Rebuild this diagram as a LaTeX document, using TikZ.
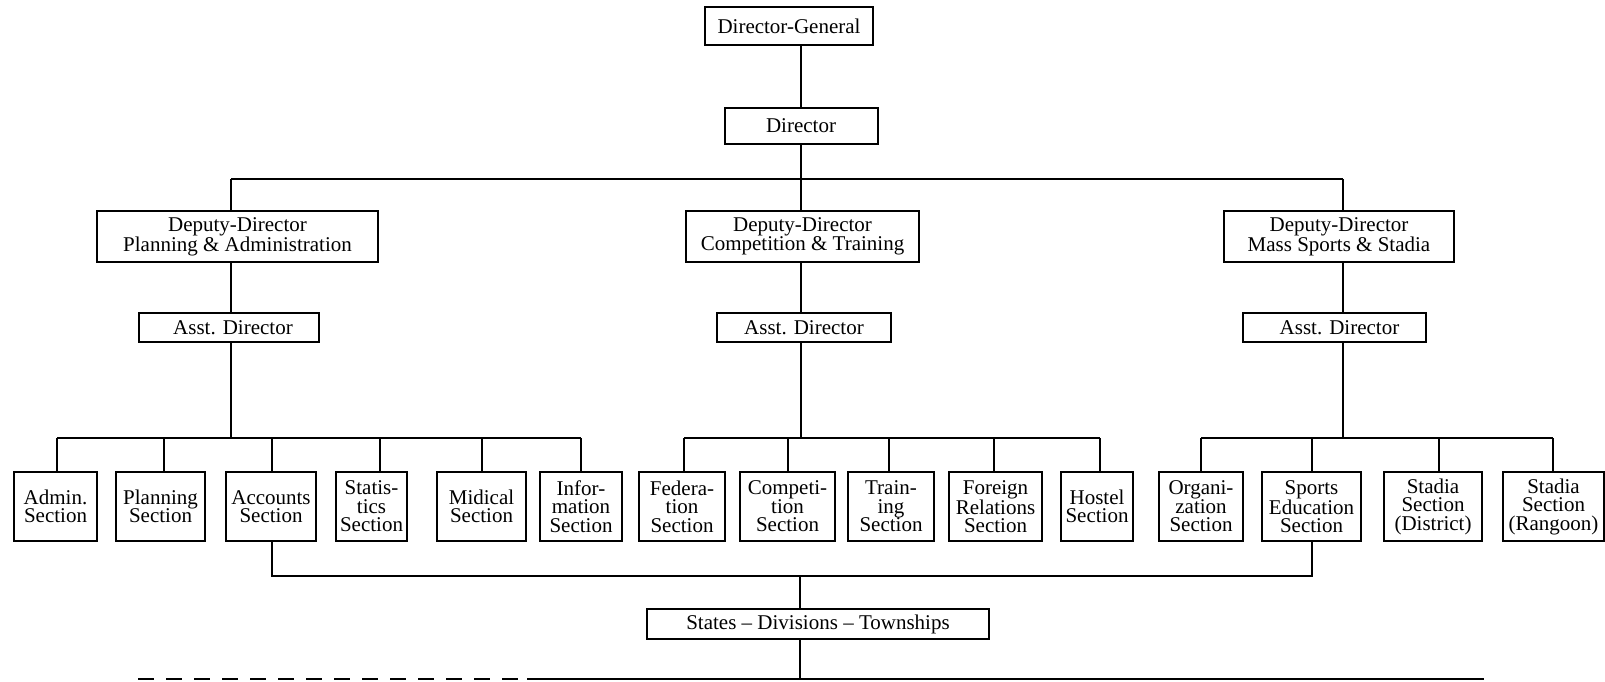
\documentclass[tikz,border=0pt]{standalone}
\usepackage{fontspec}
\setmainfont{Liberation Serif}
\begin{document}
\begin{tikzpicture}[x=1pt,y=-1pt,
  box/.style={draw, line width=2pt, inner sep=0pt, align=center,
    font=\fontsize{21}{18.5}\selectfont},
  sec/.style={box, minimum height=69pt},
  conn/.style={line width=2pt}]
\fill[white] (0,0) rectangle (1605,682);
\useasboundingbox (0,0) rectangle (1605,682);

% top levels
\node[box, minimum width=168pt, minimum height=38pt] (dg) at (789,26) {Director-General};
\node[box, minimum width=153pt, minimum height=36pt] (dir) at (801,126) {Director};

\node[box, minimum width=281pt, minimum height=51pt] (ddpa) at (237.5,236.5) {Deputy-Director\\Planning \& Administration};
\node[box, minimum width=233pt, minimum height=51pt] (ddct) at (802.5,236.5) {Deputy-Director\\Competition \& Training};
\node[box, minimum width=230pt, minimum height=51pt] (ddms) at (1339,236.5) {Deputy-Director\\Mass Sports \& Stadia};

\node[box, minimum width=180pt, minimum height=29pt] (asstL) at (229,327.5) {\hspace*{8pt}Asst. Director};
\node[box, minimum width=174pt, minimum height=29pt] (asstC) at (804,327.5) {Asst. Director};
\node[box, minimum width=183pt, minimum height=29pt] (asstR) at (1334.5,327.5) {\hspace*{10pt}Asst. Director};

% sections
\node[sec, minimum width=83pt] (admin) at (55.5,506.5) {Admin.\\Section};
\node[sec, minimum width=89pt] (plan) at (160.5,506.5) {Planning\\Section};
\node[sec, minimum width=90pt] (acc) at (271,506.5) {Accounts\\Section};
\node[sec, minimum width=71pt] (stat) at (371.5,506.5) {Statis-\\tics\\Section};
\node[sec, minimum width=89pt] (mid) at (481.5,506.5) {Midical\\Section};
\node[sec, minimum width=82pt] (info) at (581,506.5) {Infor-\\mation\\Section};

\node[sec, minimum width=86pt] (fed) at (682,506.5) {Federa-\\tion\\Section};
\node[sec, minimum width=95pt] (comp) at (787.5,506.5) {Competi-\\tion\\Section};
\node[sec, minimum width=86pt] (train) at (891,506.5) {Train-\\ing\\Section};
\node[sec, minimum width=93pt] (forg) at (995.5,506.5) {Foreign\\Relations\\Section};
\node[sec, minimum width=72pt] (host) at (1097,506.5) {Hostel\\Section};

\node[sec, minimum width=84pt] (org) at (1201,506.5) {Organi-\\zation\\Section};
\node[sec, minimum width=99pt] (sport) at (1311.5,506.5) {Sports\\Education\\Section};
\node[sec, minimum width=98pt] (dist) at (1433,506.5) {Stadia\\Section\\(District)};
\node[sec, minimum width=101pt] (rang) at (1553.5,506.5) {Stadia\\Section\\(Rangoon)};

\node[box, minimum width=342pt, minimum height=30pt] (states) at (818,624) {States -- Divisions -- Townships};

% coordinates
\coordinate (tbL) at (231,179);
\coordinate (tbC) at (801,179);
\coordinate (tbR) at (1343,179);
\coordinate (sbL) at (231,438);
\coordinate (sbC) at (801,438);
\coordinate (sbR) at (1343,438);
\coordinate (lb) at (800,576);
\coordinate (bl) at (138,679);
\coordinate (bm) at (527,679);
\coordinate (br) at (1484,679);

% connectors: top
\draw[conn] (dg.south -| dir.north) -- (dir.north);
\draw[conn] (dir.south -| tbC) -- (tbC);
\draw[conn] (tbL) -- (tbR);
\draw[conn] (tbL) -- (ddpa.north -| tbL);
\draw[conn] (tbC) -- (ddct.north -| tbC);
\draw[conn] (tbR) -- (ddms.north -| tbR);
\draw[conn] (ddpa.south -| tbL) -- (asstL.north -| tbL);
\draw[conn] (ddct.south -| tbC) -- (asstC.north -| tbC);
\draw[conn] (ddms.south -| tbR) -- (asstR.north -| tbR);
\draw[conn] (asstL.south -| sbL) -- (sbL);
\draw[conn] (asstC.south -| sbC) -- (sbC);
\draw[conn] (asstR.south -| sbR) -- (sbR);

% section bars
\draw[conn] ([xshift=1.5pt]admin.north |- sbL) -- (info.north |- sbL);
\draw[conn] ([xshift=2pt]fed.north |- sbC) -- ([xshift=3pt]host.north |- sbC);
\draw[conn] (org.north |- sbR) -- ([xshift=-0.5pt]rang.north |- sbR);
\foreach \n/\s in {admin/1.5,plan/3.5,acc/1,stat/8.5,mid/0.5,info/0,fed/2,comp/0.5,train/-2,forg/-1.5,host/3,org/0,sport/0.5,dist/6,rang/-0.5}{
  \draw[conn] ([xshift=\s pt]\n.north) -- ([xshift=\s pt]\n.north |- sbL);
}

% lower part
\draw[conn] ([xshift=1pt]acc.south) -- ([xshift=1pt]acc.south |- lb) -- ([xshift=0.5pt]sport.south |- lb) -- ([xshift=0.5pt]sport.south);
\draw[conn] (lb) -- (lb |- states.north);
\draw[conn] (lb |- states.south) -- (lb |- bm);
\draw[conn, dash pattern=on 16pt off 12pt] (bl) -- (bm);
\draw[conn] (bm) -- (br);
\end{tikzpicture}
\end{document}
